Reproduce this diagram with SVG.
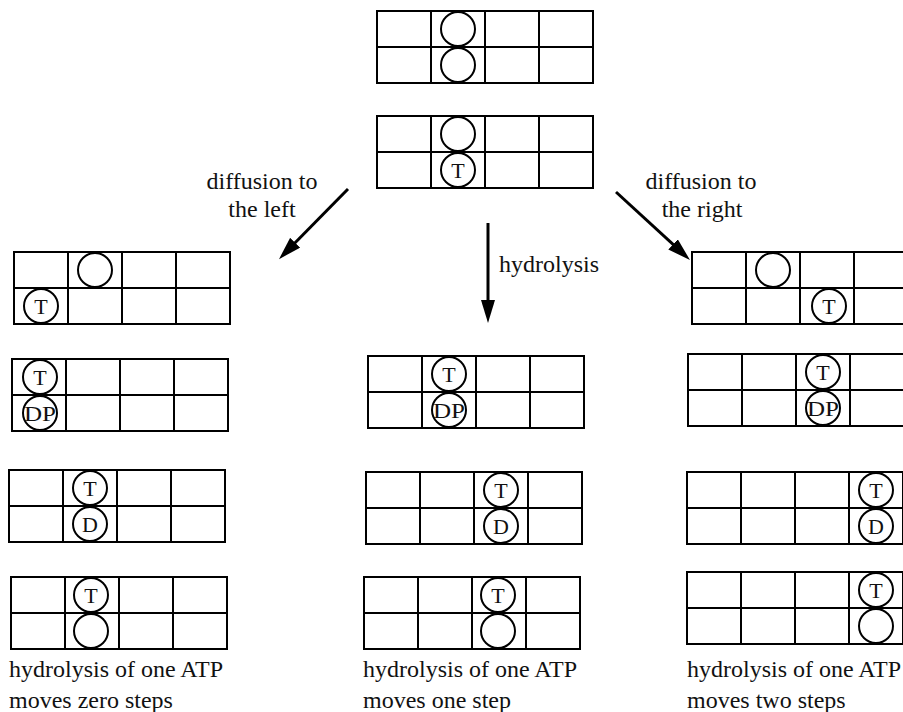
<svg xmlns="http://www.w3.org/2000/svg" xmlns:xlink="http://www.w3.org/1999/xlink" width="903" height="712" viewBox="0 0 903 712">
<style>
.g{fill:none;stroke:#000;stroke-width:2}
.c{fill:#fff;stroke:#000;stroke-width:2}
.t{font-family:"Liberation Serif","Times New Roman",serif;font-size:24px;fill:#111}
.l{font-family:"Liberation Serif","Times New Roman",serif;font-size:22px;fill:#111;text-anchor:middle}
.a{stroke:#000;stroke-width:3;fill:none;marker-end:url(#ah)}
</style>
<defs>
<marker id="ah" markerUnits="userSpaceOnUse" markerWidth="24" markerHeight="14" refX="13" refY="7" orient="auto">
<path d="M0,0 L23,7 L0,14 z" fill="#000"/>
</marker>
<g id="grid">
<rect class="g" x="0" y="0" width="216" height="72"/>
<path class="g" d="M54,0V72M108,0V72M162,0V72M0,36H216"/>
</g>
</defs>
<rect width="903" height="712" fill="#fff"/>
<g id="connectors">
<line class="a" x1="348" y1="189" x2="286" y2="252"/>
<line class="a" x1="488" y1="223" x2="488" y2="313"/>
<line class="a" x1="616" y1="192" x2="682.6" y2="253.2"/>
</g>
<g id="labels">
<text class="t" x="262" y="189" text-anchor="middle">diffusion to</text>
<text class="t" x="262" y="217" text-anchor="middle">the left</text>
<text class="t" x="701" y="189" text-anchor="middle">diffusion to</text>
<text class="t" x="702" y="217" text-anchor="middle">the right</text>
<text class="t" x="499" y="272">hydrolysis</text>
</g>
<g id="top1">
<use xlink:href="#grid" href="#grid" x="377" y="11"/>
<circle class="c" cx="458" cy="29" r="17"/>
<circle class="c" cx="458" cy="65" r="17"/>
</g>
<g id="top2">
<use xlink:href="#grid" href="#grid" x="377" y="116"/>
<circle class="c" cx="458" cy="134" r="17"/>
<circle class="c" cx="458" cy="170" r="17"/><text class="l" x="458" y="178">T</text>
</g>
<g id="left1">
<use xlink:href="#grid" href="#grid" x="14" y="252"/>
<circle class="c" cx="95" cy="270" r="17"/>
<circle class="c" cx="41" cy="306" r="17"/><text class="l" x="41" y="314">T</text>
</g>
<g id="left2">
<use xlink:href="#grid" href="#grid" x="12" y="359"/>
<circle class="c" cx="40" cy="377" r="17"/><text class="l" x="40" y="385">T</text>
<circle class="c" cx="40" cy="413" r="17"/><text class="l" x="40" y="421" textLength="32" lengthAdjust="spacingAndGlyphs">DP</text>
</g>
<g id="left3">
<use xlink:href="#grid" href="#grid" x="9" y="470"/>
<circle class="c" cx="90" cy="488" r="17"/><text class="l" x="90" y="496">T</text>
<circle class="c" cx="90" cy="524" r="17"/><text class="l" x="90" y="532">D</text>
</g>
<g id="left4">
<use xlink:href="#grid" href="#grid" x="11" y="577"/>
<circle class="c" cx="91" cy="595" r="17"/><text class="l" x="91" y="603">T</text>
<circle class="c" cx="91" cy="631" r="17"/>
</g>
<g id="mid1">
<use xlink:href="#grid" href="#grid" x="368" y="356"/>
<circle class="c" cx="449" cy="374" r="17"/><text class="l" x="449" y="382">T</text>
<circle class="c" cx="449" cy="410" r="17"/><text class="l" x="449" y="418" textLength="32" lengthAdjust="spacingAndGlyphs">DP</text>
</g>
<g id="mid2">
<use xlink:href="#grid" href="#grid" x="366" y="472"/>
<circle class="c" cx="501" cy="490" r="17"/><text class="l" x="501" y="498">T</text>
<circle class="c" cx="501" cy="526" r="17"/><text class="l" x="501" y="534">D</text>
</g>
<g id="mid3">
<use xlink:href="#grid" href="#grid" x="364" y="577"/>
<circle class="c" cx="498" cy="595" r="17"/><text class="l" x="498" y="603">T</text>
<circle class="c" cx="498" cy="631" r="17"/>
</g>
<g id="right1">
<use xlink:href="#grid" href="#grid" x="692" y="252"/>
<circle class="c" cx="773" cy="270" r="17"/>
<circle class="c" cx="829" cy="306" r="17"/><text class="l" x="829" y="314">T</text>
</g>
<g id="right2">
<use xlink:href="#grid" href="#grid" x="688" y="354"/>
<circle class="c" cx="823" cy="372" r="17"/><text class="l" x="823" y="380">T</text>
<circle class="c" cx="823" cy="408" r="17"/><text class="l" x="823" y="416" textLength="32" lengthAdjust="spacingAndGlyphs">DP</text>
</g>
<g id="right3">
<use xlink:href="#grid" href="#grid" x="687" y="472"/>
<circle class="c" cx="876" cy="490" r="17"/><text class="l" x="876" y="498">T</text>
<circle class="c" cx="876" cy="526" r="17"/><text class="l" x="876" y="534">D</text>
</g>
<g id="right4">
<use xlink:href="#grid" href="#grid" x="687" y="572"/>
<circle class="c" cx="876" cy="590" r="17"/><text class="l" x="876" y="598">T</text>
<circle class="c" cx="876" cy="626" r="17"/>
</g>
<g id="captions">
<text class="t" x="9" y="677">hydrolysis of one ATP</text>
<text class="t" x="9" y="708">moves zero steps</text>
<text class="t" x="363" y="677">hydrolysis of one ATP</text>
<text class="t" x="363" y="708">moves one step</text>
<text class="t" x="687" y="677">hydrolysis of one ATP</text>
<text class="t" x="687" y="708">moves two steps</text>
</g>
</svg>
